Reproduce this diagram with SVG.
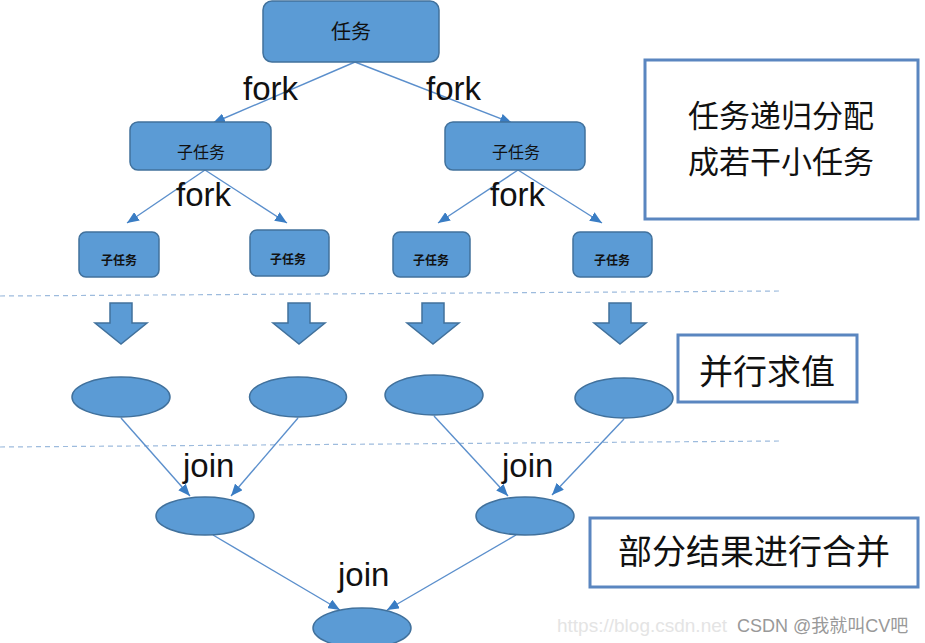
<svg xmlns="http://www.w3.org/2000/svg" width="925" height="643" viewBox="0 0 925 643">
<style>
.node{fill:#5b9bd5;stroke:#41719c;stroke-width:1.5}
.lbl{fill:#fff;stroke:#5a86c0;stroke-width:3}
.conn{stroke:#5b8fcc;stroke-width:1.4;fill:none;marker-end:url(#ah)}
.dash{stroke:#9dbbdd;stroke-width:1.2;stroke-dasharray:5 4;fill:none}
.cjk{font-family:"Noto Sans CJK SC","Noto Sans",sans-serif;fill:#111;text-anchor:middle}
.lat{font-family:"Liberation Sans",Arial,sans-serif;font-size:33px;fill:#111}
</style>
<defs>
<marker id="ah" viewBox="0 0 12 10" refX="12" refY="5" markerWidth="12" markerHeight="10" markerUnits="userSpaceOnUse" orient="auto">
<path d="M0,0 L12,5 L0,10 z" fill="#3a7dc4"/>
</marker>
<path id="barrow" d="M-11,0 H11 V20 H26 L0,41 L-26,20 H-11 Z"/>
</defs>
<rect width="925" height="643" fill="#fff"/>
<g id="dividers">
<line class="dash" x1="0" y1="296" x2="780" y2="291"/>
<line class="dash" x1="0" y1="447" x2="780" y2="441"/>
</g>
<g id="connectors">
<line class="conn" x1="355" y1="62" x2="213" y2="123"/>
<line class="conn" x1="355" y1="62" x2="512" y2="123"/>
<line class="conn" x1="205" y1="170" x2="127" y2="223"/>
<line class="conn" x1="205" y1="170" x2="287" y2="223"/>
<line class="conn" x1="518" y1="170" x2="438" y2="223"/>
<line class="conn" x1="518" y1="170" x2="602" y2="223"/>
<line class="conn" x1="121" y1="418" x2="190" y2="496"/>
<line class="conn" x1="298" y1="418" x2="231" y2="496"/>
<line class="conn" x1="434" y1="416" x2="508" y2="496"/>
<line class="conn" x1="624" y1="419" x2="552" y2="495"/>
<line class="conn" x1="213" y1="535" x2="340" y2="610"/>
<line class="conn" x1="516" y1="535" x2="387" y2="610"/>
</g>
<g id="edge-labels">
<text class="lat" x="243" y="100">fork</text>
<text class="lat" x="426" y="100">fork</text>
<text class="lat" x="176" y="206">fork</text>
<text class="lat" x="490" y="206">fork</text>
<text class="lat" x="183" y="477">join</text>
<text class="lat" x="502" y="477">join</text>
<text class="lat" x="338" y="586">join</text>
</g>
<g id="task">
<rect class="node" x="263" y="1" width="176" height="61" rx="9"/>
<text class="cjk" x="351" y="39" font-size="20">任务</text>
</g>
<g id="sub-left">
<rect class="node" x="130" y="122" width="141" height="48" rx="8"/>
<text class="cjk" x="201" y="158" font-size="16">子任务</text>
</g>
<g id="sub-right">
<rect class="node" x="445" y="122" width="140" height="48" rx="8"/>
<text class="cjk" x="516" y="158" font-size="16">子任务</text>
</g>
<g id="leaf1">
<rect class="node" x="79" y="232" width="80" height="45" rx="7"/>
<text class="cjk" x="119" y="265" font-size="12" font-weight="bold">子任务</text>
</g>
<g id="leaf2">
<rect class="node" x="250" y="230" width="79" height="46" rx="7"/>
<text class="cjk" x="288" y="264" font-size="12" font-weight="bold">子任务</text>
</g>
<g id="leaf3">
<rect class="node" x="393" y="232" width="77" height="45" rx="7"/>
<text class="cjk" x="431" y="265" font-size="12" font-weight="bold">子任务</text>
</g>
<g id="leaf4">
<rect class="node" x="573" y="232" width="79" height="45" rx="7"/>
<text class="cjk" x="612" y="265" font-size="12" font-weight="bold">子任务</text>
</g>
<g id="block-arrows" class="node" stroke-width="1">
<use href="#barrow" x="121" y="303"/>
<use href="#barrow" x="299" y="303"/>
<use href="#barrow" x="433" y="303"/>
<use href="#barrow" x="620" y="303"/>
</g>
<g id="eval1"><ellipse class="node" cx="121" cy="397" rx="49" ry="20"/></g>
<g id="eval2"><ellipse class="node" cx="298" cy="397" rx="48.5" ry="20"/></g>
<g id="eval3"><ellipse class="node" cx="434" cy="395" rx="49" ry="20"/></g>
<g id="eval4"><ellipse class="node" cx="624" cy="398" rx="49" ry="20"/></g>
<g id="join-left"><ellipse class="node" cx="205" cy="516" rx="49" ry="19"/></g>
<g id="join-right"><ellipse class="node" cx="525" cy="516" rx="49" ry="19"/></g>
<g id="join-final"><ellipse class="node" cx="362" cy="628" rx="49" ry="20"/></g>
<g id="label-split">
<rect class="lbl" x="645" y="60" width="273" height="159"/>
<text class="cjk" x="781" y="127" font-size="31">任务递归分配</text>
<text class="cjk" x="781" y="173" font-size="31">成若干小任务</text>
</g>
<g id="label-eval">
<rect class="lbl" x="678" y="335" width="179" height="67"/>
<text class="cjk" x="767" y="384" font-size="34">并行求值</text>
</g>
<g id="label-merge">
<rect class="lbl" x="590" y="518" width="328" height="69"/>
<text class="cjk" x="754" y="564" font-size="34">部分结果进行合并</text>
</g>
<g id="watermark">
<text x="557" y="632" font-family="Liberation Sans,Arial,sans-serif" font-size="19" fill="#e4e4e4">https://blog.csdn.net</text>
<text x="737" y="632" font-family="Liberation Sans,'Noto Sans CJK SC',sans-serif" font-size="18" fill="#999">CSDN @我就叫CV吧</text>
</g>
</svg>
